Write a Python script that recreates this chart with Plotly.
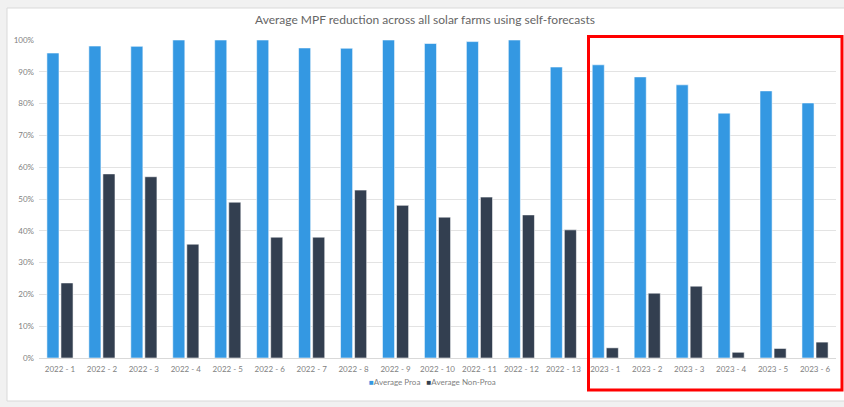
import plotly.graph_objects as go

categories = ["2022 - 1", "2022 - 2", "2022 - 3", "2022 - 4", "2022 - 5", "2022 - 6", "2022 - 7",
              "2022 - 8", "2022 - 9", "2022 - 10", "2022 - 11", "2022 - 12", "2022 - 13",
              "2023 - 1", "2023 - 2", "2023 - 3", "2023 - 4", "2023 - 5", "2023 - 6"]
avg_proa = [0.959, 0.981, 0.980, 1.0, 1.0, 1.0, 0.975, 0.974, 1.0, 0.989, 0.995, 1.0, 0.915,
            0.922, 0.884, 0.859, 0.770, 0.840, 0.802]
avg_non_proa = [0.236, 0.579, 0.570, 0.358, 0.490, 0.380, 0.380, 0.528, 0.480, 0.443, 0.506, 0.450, 0.403,
                0.032, 0.204, 0.226, 0.018, 0.030, 0.050]
series_names = ["Average Proa", "Average Non-Proa"]
series_colors = ["#3498E2", "#333F50"]

FONT = "Lato"

fig = go.Figure()
for name, vals, col in zip(series_names, [avg_proa, avg_non_proa], series_colors):
    fig.add_trace(go.Bar(x=categories, y=vals, name=name, showlegend=False,
                         marker=dict(color=col, line=dict(color="rgba(255,255,255,0.55)", width=1))))

W, H = 844, 407
L, R, T, B = 39, 8, 40, 49
pw, ph = W - L - R, H - T - B

def px_x(p):
    return (p - L) / pw

def px_y(p):
    return (H - B - p) / ph

legend_text = "&nbsp;&nbsp;&nbsp;".join(
    f"<span style='color:{c}'>■</span>{n}" for n, c in zip(series_names, series_colors))

fig.update_layout(
    width=W, height=H,
    margin=dict(l=L, r=R, t=T, b=B),
    paper_bgcolor="#F1F1F1",
    plot_bgcolor="rgba(0,0,0,0)",
    barmode="group",
    bargap=0.33,
    bargroupgap=0.14,
    font=dict(family=FONT, color="#7F7F7F", size=8),
    title=dict(text="Average MPF reduction across all solar farms using self-forecasts",
               x=425 / W, xref="container", xanchor="center",
               y=1 - 20 / H, yref="container", yanchor="middle",
               font=dict(family=FONT, size=12, color="#666666")),
    showlegend=False,
    xaxis=dict(showgrid=False, showline=False, ticks="", tickangle=0, ticklabelstandoff=5,
               tickfont=dict(family=FONT, size=8, color="#7F7F7F")),
    yaxis=dict(range=[0, 1.0], dtick=0.1, tickformat=".0%", showgrid=True, gridcolor="#E3E3E3",
               gridwidth=1, zeroline=True, zerolinecolor="#D9D9D9", zerolinewidth=1, showline=False,
               ticks="", ticklabelstandoff=4,
               tickfont=dict(family=FONT, size=8, color="#7F7F7F")),
    annotations=[
        dict(text=legend_text, xref="paper", yref="paper", x=px_x(432), y=px_y(382),
             xanchor="center", yanchor="middle", showarrow=False,
             font=dict(family=FONT, size=8, color="#7F7F7F")),
    ],
    shapes=[
        dict(type="rect", xref="paper", yref="paper", layer="below",
             x0=px_x(7), x1=px_x(846), y0=px_y(401), y1=px_y(8),
             fillcolor="white", line=dict(color="#D9D9D9", width=1)),
        dict(type="rect", xref="paper", yref="paper", layer="above",
             x0=px_x(588.5), x1=px_x(842), y0=px_y(390), y1=px_y(36.5),
             fillcolor="rgba(0,0,0,0)", line=dict(color="#FF0000", width=3)),
    ],
)

fig.write_html("out.html")
